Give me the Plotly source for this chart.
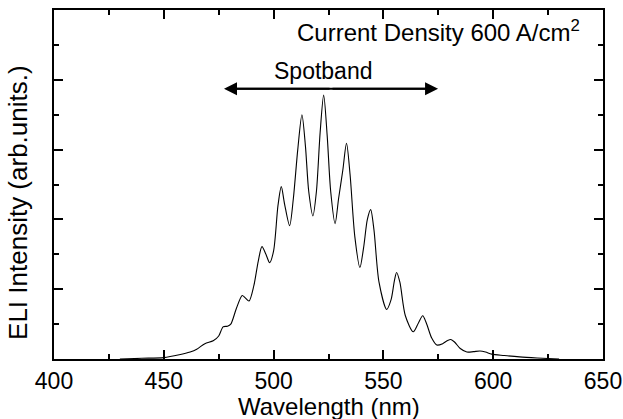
import plotly.graph_objects as go

# Spectrum (wavelength nm, intensity arb. units)
wavelength = [430, 440, 450, 457, 462, 465, 468.7, 472.5, 475, 477, 479, 480.5, 483,
              485.7, 487, 488.8, 491, 493, 494.7, 496.5, 498.2, 500, 502, 503.5, 505,
              507.3, 509, 511, 512.9, 514.5, 516, 517.9, 519.5, 521.2, 522.8, 524.4,
              526, 528, 529.6, 531.5, 533.2, 534.8, 537, 539.3, 541, 542.7, 544.2,
              545.7, 548, 551.5, 553.5, 555, 556, 557.5, 560, 563.6, 566, 567.9,
              569.5, 572, 574.3, 577, 579, 580.7, 582.5, 585, 588, 591, 594, 596.5,
              599.3, 605, 612, 620, 630]
intensity = [0.00, 0.01, 0.02, 0.06, 0.10, 0.14, 0.22, 0.26, 0.33, 0.46, 0.47, 0.50, 0.72,
             0.91, 0.88, 0.83, 1.05, 1.40, 1.61, 1.50, 1.38, 1.55, 2.20, 2.47, 2.22,
             1.91, 2.30, 3.00, 3.50, 3.05, 2.40, 2.05, 2.40, 3.25, 3.78, 3.20,
             2.40, 1.94, 2.30, 2.70, 3.09, 2.65, 1.75, 1.31, 1.60, 2.00, 2.14,
             1.85, 1.10, 0.71, 0.85, 1.12, 1.24, 1.10, 0.62, 0.39, 0.52, 0.62,
             0.52, 0.30, 0.20, 0.22, 0.26, 0.28, 0.24, 0.15, 0.10, 0.105, 0.115, 0.10,
             0.07, 0.05, 0.03, 0.015, 0.00]

x_range = [400, 650]
y_range = [0, 5]
x_tickvals = [400, 450, 500, 550, 600, 650]
x_ticklabels = ["400", "450", "500", "550", "600", "650"]
spotband_start = 477.4
spotband_end = 574.9
spotband_level = 3.87

FONT = "Arial, Liberation Sans, sans-serif"

fig = go.Figure()
fig.add_trace(go.Scatter(
    x=wavelength, y=intensity, mode="lines",
    line=dict(color="black", width=1.1, shape="spline", smoothing=0.8),
    showlegend=False, hoverinfo="skip"))

axis_common = dict(
    showline=True, linecolor="black", linewidth=2, mirror="allticks",
    ticks="inside", ticklen=9, tickwidth=1.5, tickcolor="black",
    showgrid=False, zeroline=False, automargin=False,
)

fig.update_xaxes(
    range=x_range, tickvals=x_tickvals, ticktext=x_ticklabels,
    tickfont=dict(family=FONT, size=23, color="black"),
    minor=dict(dtick=25, ticks="inside", ticklen=5, tickwidth=1.5, tickcolor="black"),
    **axis_common)
fig.update_yaxes(
    range=y_range, dtick=1, showticklabels=False,
    minor=dict(dtick=0.5, ticks="inside", ticklen=5, tickwidth=1.5, tickcolor="black"),
    **axis_common)

# axis titles
fig.add_annotation(x=0.5, y=-0.137, xref="paper", yref="paper",
                   text="Wavelength (nm)", showarrow=False,
                   xanchor="center", yanchor="middle",
                   font=dict(family=FONT, size=24, color="black"))
fig.add_annotation(x=-0.0656, y=0.45, xref="paper", yref="paper",
                   text="ELI Intensity (arb.units.)", showarrow=False, textangle=-90,
                   xanchor="center", yanchor="middle",
                   font=dict(family=FONT, size=26, color="black"))

# double-headed arrow for the spot band
fig.add_shape(type="line", x0=spotband_start + 2, x1=spotband_end - 2,
              y0=spotband_level, y1=spotband_level, xref="x", yref="y",
              line=dict(color="black", width=2))
mid = (spotband_start + spotband_end) / 2
for tip in (spotband_start, spotband_end):
    fig.add_annotation(x=tip, y=spotband_level, ax=mid, ay=spotband_level,
                       xref="x", yref="y", axref="x", ayref="y",
                       text="", showarrow=True, arrowhead=2, arrowsize=1.3,
                       arrowwidth=2, arrowcolor="black")

fig.add_annotation(x=522.5, y=4.12, xref="x", yref="y", text="Spotband",
                   showarrow=False, font=dict(family=FONT, size=23, color="black"))
fig.add_annotation(x=640.4, y=4.70, xref="x", yref="y", xanchor="right",
                   text="Current Density 600 A/cm<sup>2</sup>",
                   showarrow=False, font=dict(family=FONT, size=24, color="black"))

fig.update_layout(
    width=623, height=419,
    margin=dict(l=54, r=20, t=10, b=60),
    paper_bgcolor="white", plot_bgcolor="white",
)

# remove the default page margin so the figure sits at the window origin
fig.write_html("out.html", config={"displayModeBar": False},
               post_script="document.body.style.margin='0';document.body.style.overflow='hidden';")
